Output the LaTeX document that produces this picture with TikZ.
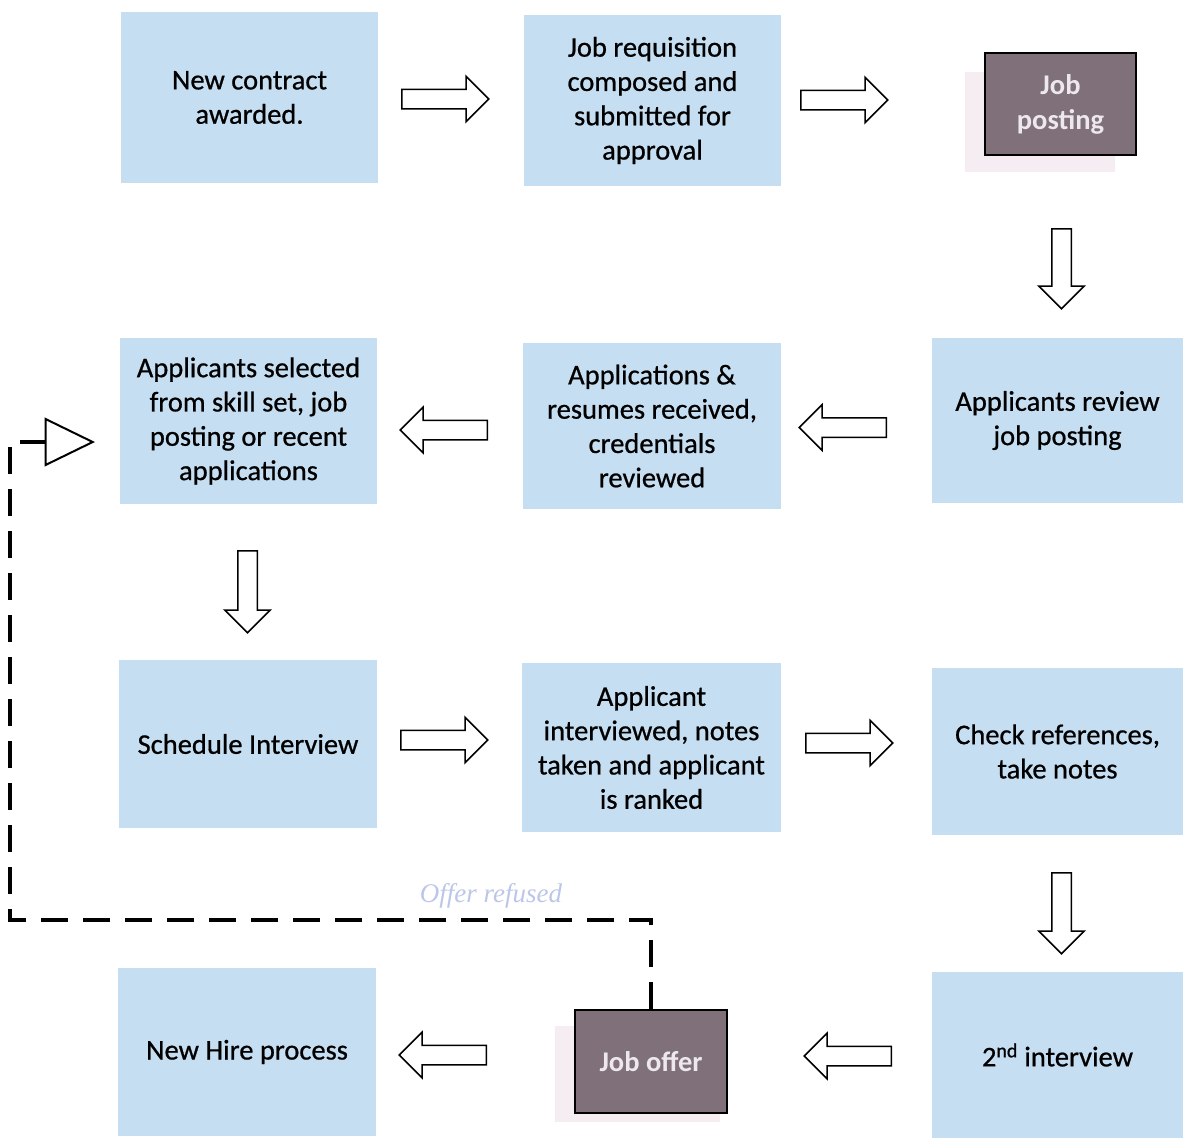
\documentclass[tikz,border=0pt]{standalone}
\usepackage{fontspec}
\setmainfont{Carlito}[FakeBold=0.7]
\newfontfamily\darkfont{Carlito}
\newfontfamily\serifit{Liberation Serif}
\usetikzlibrary{shapes.arrows,shapes.geometric}
\definecolor{boxblue}{RGB}{198,222,241}
\definecolor{darkbox}{RGB}{128,112,121}
\definecolor{shadowpink}{RGB}{246,237,243}
\definecolor{refusedcol}{RGB}{188,198,232}
\definecolor{darktext}{RGB}{236,232,236}
\tikzset{
  stepbox/.style={rectangle, fill=boxblue, inner sep=0pt, align=center,
    text=black, font=\fontsize{28.5}{34.3}\selectfont},
  darkstep/.style={rectangle, fill=darkbox, draw=black, line width=1.6pt, inner sep=0pt,
    align=center, text=darktext, font=\darkfont\bfseries\fontsize{28.5}{35}\selectfont},
  blockarrow/.style={single arrow, draw=black, line width=1.5pt, fill=white,
    inner sep=9pt, single arrow head extend=13pt, single arrow tip angle=90,
    minimum height=#1, anchor=tail},
  blockarrow/.default=87pt,
  refusedline/.style={line width=3.6pt, dash pattern=on 27pt off 15pt},
}
\begin{document}
\begin{tikzpicture}[x=1pt,y=-1pt]
\useasboundingbox (0,0) rectangle (1183,1138);
% shadows behind dark boxes
\fill[shadowpink] (965,72) rectangle (1115,172);
\fill[shadowpink] (555,1026) rectangle (720,1122);
% boxes
\node[stepbox, minimum width=257pt, minimum height=171pt] (b1) at (249.5,97.5) {New contract\\awarded.};
\node[stepbox, minimum width=257pt, minimum height=171pt] (b2) at (652.5,100.5) {Job requisition\\composed and\\submitted for\\approval};
\node[darkstep, minimum width=151pt, minimum height=102pt] (b3) at (1060.5,104) {Job\\posting};
\node[stepbox, minimum width=251pt, minimum height=165pt] (b4) at (1057.5,420.5) {Applicants review\\job posting};
\node[stepbox, minimum width=258pt, minimum height=166pt] (b5) at (652,426) {Applications \&\\resumes received,\\credentials\\reviewed};
\node[stepbox, minimum width=257pt, minimum height=166pt] (b6) at (248.5,421) {Applicants selected\\from skill set, job\\posting or recent\\applications};
\node[stepbox, minimum width=258pt, minimum height=168pt] (b7) at (248,744) {Schedule Interview};
\node[stepbox, minimum width=259pt, minimum height=169pt] (b8) at (651.5,747.5) {Applicant\\interviewed, notes\\taken and applicant\\is ranked};
\node[stepbox, minimum width=251pt, minimum height=167pt] (b9) at (1057.5,751.5) {Check references,\\take notes};
\node[stepbox, minimum width=251pt, minimum height=166pt] (b10) at (1057.5,1055) {2\textsuperscript{nd} interview};
\node[darkstep, minimum width=152pt, minimum height=103pt] (b11) at (651,1061.5) {Job offer};
\node[stepbox, minimum width=258pt, minimum height=168pt] (b12) at (247,1052) {New Hire process};
% block arrows (placed by their tails)
\node[blockarrow] (a1) at (401,99) {};
\node[blockarrow] (a2) at (800,100) {};
\node[blockarrow=80pt, shape border rotate=270] (a3) at (1061.5,228) {};
\node[blockarrow, shape border rotate=180] (a4) at (887,427.5) {};
\node[blockarrow, shape border rotate=180] (a5) at (488,430) {};
\node[blockarrow=82pt, shape border rotate=270] (a6) at (247.5,550) {};
\node[blockarrow] (a7) at (400,740) {};
\node[blockarrow] (a8) at (805,743) {};
\node[blockarrow=81pt, shape border rotate=270] (a9) at (1061.5,872) {};
\node[blockarrow, shape border rotate=180] (a10) at (892,1056) {};
\node[blockarrow, shape border rotate=180] (a11) at (487,1055) {};
% offer refused loop
\node[isosceles triangle, draw=black, line width=2pt, fill=white, inner sep=0pt,
  minimum height=46pt, minimum width=46pt, isosceles triangle apex angle=52,
  anchor=apex] (tri) at (95,442) {};
\coordinate (corner) at (10,920);
\draw[refusedline] (b11.north) |- (corner) |- (tri.lower side);
\node[font=\serifit\itshape\fontsize{27}{30}\selectfont, text=refusedcol] (refused) at (491,896) {Offer refused};
\end{tikzpicture}
\end{document}
